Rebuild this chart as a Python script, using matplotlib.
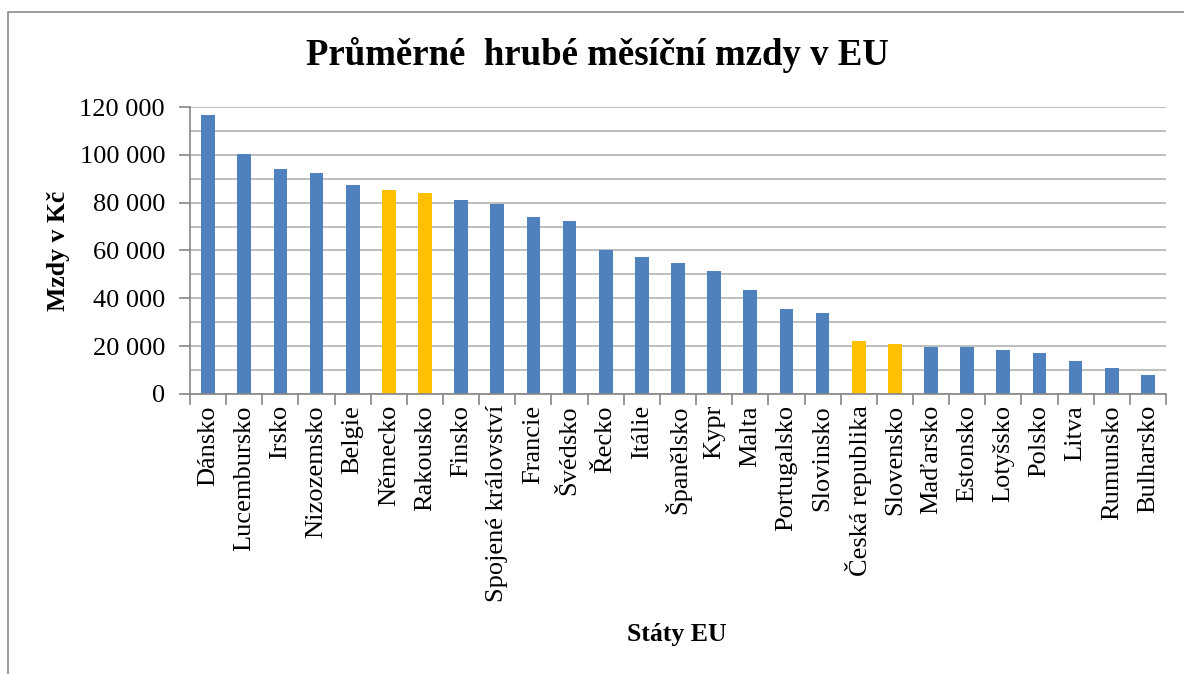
import matplotlib
matplotlib.use("Agg")
import matplotlib.pyplot as plt
from matplotlib.patches import Rectangle
from matplotlib.ticker import FuncFormatter, MultipleLocator

plt.rcParams["font.family"] = ["Liberation Serif", "DejaVu Serif"]

# průměrné hrubé měsíční mzdy (Kč)
staty = ["Dánsko", "Lucembursko", "Irsko", "Nizozemsko", "Belgie", "Německo",
         "Rakousko", "Finsko", "Spojené království", "Francie", "Švédsko",
         "Řecko", "Itálie", "Španělsko", "Kypr", "Malta", "Portugalsko",
         "Slovinsko", "Česká republika", "Slovensko", "Maďarsko", "Estonsko",
         "Lotyšsko", "Polsko", "Litva", "Rumunsko", "Bulharsko"]
mzdy = [116600, 100400, 94000, 92400, 87500, 85300, 84000, 81100, 79300,
        73900, 72300, 60400, 57100, 54600, 51300, 43400, 35500, 33700,
        22100, 21100, 19700, 19700, 18200, 17200, 14000, 11000, 8100]
zvyraznene = ["Německo", "Rakousko", "Česká republika", "Slovensko"]

BLUE = "#4F81BD"
GOLD = "#FFC000"
GRID = "#B3B3B3"
AXIS = "#868686"

fig = plt.figure(figsize=(11.84, 6.74), dpi=100)
ax = fig.add_axes([190 / 1184, 1 - 394 / 674, (1166 - 190) / 1184, (394 - 107) / 674])

barvy = [GOLD if s in zvyraznene else BLUE for s in staty]
x = list(range(len(staty)))
ax.bar(x, mzdy, width=0.38, color=barvy, zorder=3)

ax.set_xlim(-0.5, len(staty) - 0.5)
ax.set_ylim(0, 120000)
ax.yaxis.set_major_locator(MultipleLocator(20000))
ax.yaxis.set_minor_locator(MultipleLocator(10000))
ax.yaxis.set_major_formatter(FuncFormatter(lambda v, p: f"{int(v):,}".replace(",", " ")))
ax.grid(axis="y", which="both", color=GRID, lw=1.2, zorder=0)

# popisky států mezi ticky na hranicích kategorií
ax.set_xticks(x)
ax.set_xticklabels(staty, rotation=90, fontsize=19)
ax.set_xticks([i - 0.5 for i in range(len(staty) + 1)], minor=True)
ax.tick_params(axis="x", which="major", length=0, pad=8)
ax.tick_params(axis="x", which="minor", length=8, color=AXIS, width=1.2)
ax.tick_params(axis="y", which="major", length=8, color=AXIS, width=1.2, labelsize=19, pad=10)
ax.tick_params(axis="y", which="minor", length=0)

for s in ["top", "right"]:
    ax.spines[s].set_visible(False)
for s in ["left", "bottom"]:
    ax.spines[s].set_color(AXIS)
    ax.spines[s].set_linewidth(1.2)
    ax.spines[s].set_zorder(4)

fig.text(597 / 1184, 1 - 55 / 674, "Průměrné  hrubé měsíční mzdy v EU", ha="center", va="center",
         fontsize=26.5, fontweight="bold")
fig.text(58 / 1184, 1 - 251 / 674, "Mzdy v Kč", ha="center", va="center", rotation=90,
         fontsize=18.5, fontweight="bold")
fig.text(677 / 1184, 1 - 635 / 674, "Státy EU", ha="center", va="center",
         fontsize=18.5, fontweight="bold")

# rámeček grafu (pravý a spodní okraj je mimo obrázek)
fig.patches.append(Rectangle((8 / 1184, -0.1), 1.2, 1.1 - 12 / 674, transform=fig.transFigure,
                             fill=False, edgecolor="#8C8C8C", lw=1.2))

fig.savefig("out.png", dpi=100)
